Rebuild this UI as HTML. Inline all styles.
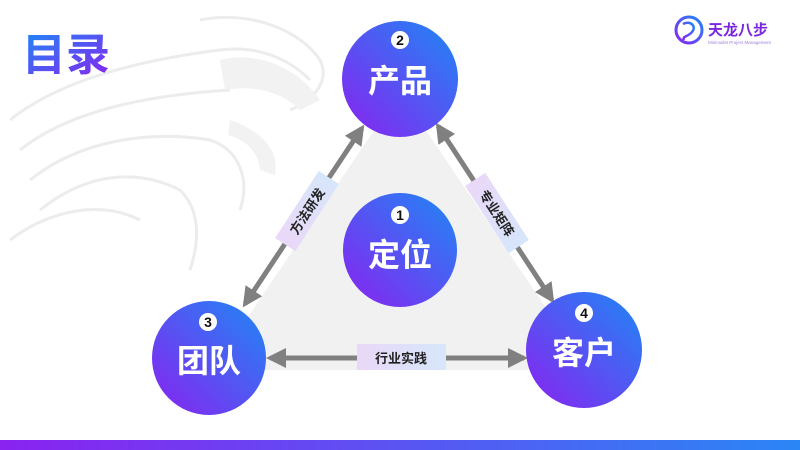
<!DOCTYPE html>
<html><head><meta charset="utf-8"><style>
html,body{margin:0;padding:0;width:800px;height:450px;overflow:hidden;background:#fff}
</style></head><body>
<svg width="800" height="450" viewBox="0 0 800 450" xmlns="http://www.w3.org/2000/svg" style="font-family:'Liberation Sans','Noto Sans CJK SC',sans-serif">
<defs>
<linearGradient id="g" x1="1" y1="0" x2="0" y2="1"><stop offset="0" stop-color="#1e88f5"/><stop offset="1" stop-color="#8a22f0"/></linearGradient>
<linearGradient id="bar" x1="0" y1="0" x2="1" y2="0"><stop offset="0" stop-color="#8a22f0"/><stop offset="1" stop-color="#2a86f5"/></linearGradient>
<linearGradient id="lab" x1="0" y1="0" x2="1" y2="0"><stop offset="0" stop-color="#ead8f8"/><stop offset="1" stop-color="#d6e6fb"/></linearGradient>
<linearGradient id="tg" x1="0" y1="0" x2="1" y2="1"><stop offset="0" stop-color="#1e88f5"/><stop offset="1" stop-color="#8a22f0"/></linearGradient>
<marker id="ah" viewBox="0 0 10 10" refX="8" refY="5" markerWidth="4" markerHeight="4" orient="auto-start-reverse"><path d="M0,0L10,5L0,10z" fill="#808080"/></marker>
</defs>
<!-- faint dragon background -->
<g fill="none" stroke="#ececec" stroke-width="3">
<path d="M10,120 C60,80 140,60 220,50 C260,45 290,60 310,80"/>
<path d="M20,150 C70,110 150,95 230,90"/>
<path d="M30,180 C80,140 150,130 210,140 C240,150 250,180 240,210"/>
<path d="M40,210 C90,170 140,170 180,190 C200,210 200,240 190,270"/>
<path d="M10,240 C50,210 100,200 140,220"/>
<path d="M200,20 C250,10 300,30 320,60 C330,80 315,100 290,110"/>
</g>
<g fill="#f2f2f2">
<path d="M220,60 C260,50 300,70 320,100 L300,110 C280,90 250,85 225,90z"/>
<path d="M230,120 C260,130 280,150 275,175 L260,170 C258,150 245,140 228,135z"/>
</g>
<polygon points="400,92 212,370 588,370" fill="#f1f1f1"/>
<text x="22" y="70" font-size="44" font-weight="bold" fill="url(#tg)">目录</text>
<!-- logo -->
<circle cx="689" cy="30" r="13" fill="none" stroke="url(#g)" stroke-width="3"/>
<path d="M683,24 C690,20 697,26 692,32 C688,37 682,36 684,40" stroke="url(#g)" stroke-width="2.5" fill="none"/>
<text x="708" y="35" font-size="15" font-weight="bold" fill="#7a28e0">天龙八步</text>
<text x="708" y="44" font-size="4.5" fill="#a080e0">Minimalist Project Management</text>
<!-- arrows -->
<g stroke="#808080" stroke-width="5" marker-start="url(#ah)" marker-end="url(#ah)">
<line x1="245" y1="304" x2="362" y2="128"/>
<line x1="438" y1="126" x2="552" y2="300"/>
<line x1="270" y1="358" x2="524" y2="358"/>
</g>
<rect x="357" y="344" width="89" height="26" fill="url(#lab)"/>
<text x="401" y="363" font-size="13" font-weight="bold" text-anchor="middle" fill="#222">行业实践</text>
<g transform="translate(307,211) rotate(-57)"><rect x="-40" y="-12" width="80" height="24" fill="url(#lab)"/><text x="0" y="5" font-size="13" font-weight="bold" text-anchor="middle" fill="#222">方法研发</text></g>
<g transform="translate(497,213) rotate(57)"><rect x="-40" y="-12" width="80" height="24" fill="url(#lab)"/><text x="0" y="5" font-size="13" font-weight="bold" text-anchor="middle" fill="#222">专业矩阵</text></g>
<!-- circles -->
<g font-weight="bold" text-anchor="middle">
<circle cx="400" cy="79" r="58" fill="url(#g)"/>
<circle cx="400" cy="40" r="9" fill="#fff"/><text x="400" y="45" font-size="14" fill="#111">2</text>
<text x="400" y="92" font-size="32" fill="#fff">产品</text>
<circle cx="400" cy="250" r="57" fill="url(#g)"/>
<circle cx="400" cy="215" r="9" fill="#fff"/><text x="400" y="220" font-size="14" fill="#111">1</text>
<text x="400" y="266" font-size="32" fill="#fff">定位</text>
<circle cx="209" cy="358" r="57" fill="url(#g)"/>
<circle cx="208" cy="322" r="9" fill="#fff"/><text x="208" y="327" font-size="14" fill="#111">3</text>
<text x="209" y="372" font-size="32" fill="#fff">团队</text>
<circle cx="584" cy="350" r="58" fill="url(#g)"/>
<circle cx="584" cy="313" r="9" fill="#fff"/><text x="584" y="318" font-size="14" fill="#111">4</text>
<text x="584" y="364" font-size="32" fill="#fff">客户</text>
</g>
<rect x="0" y="440" width="800" height="10" fill="url(#bar)"/>
</svg>
</body></html>
